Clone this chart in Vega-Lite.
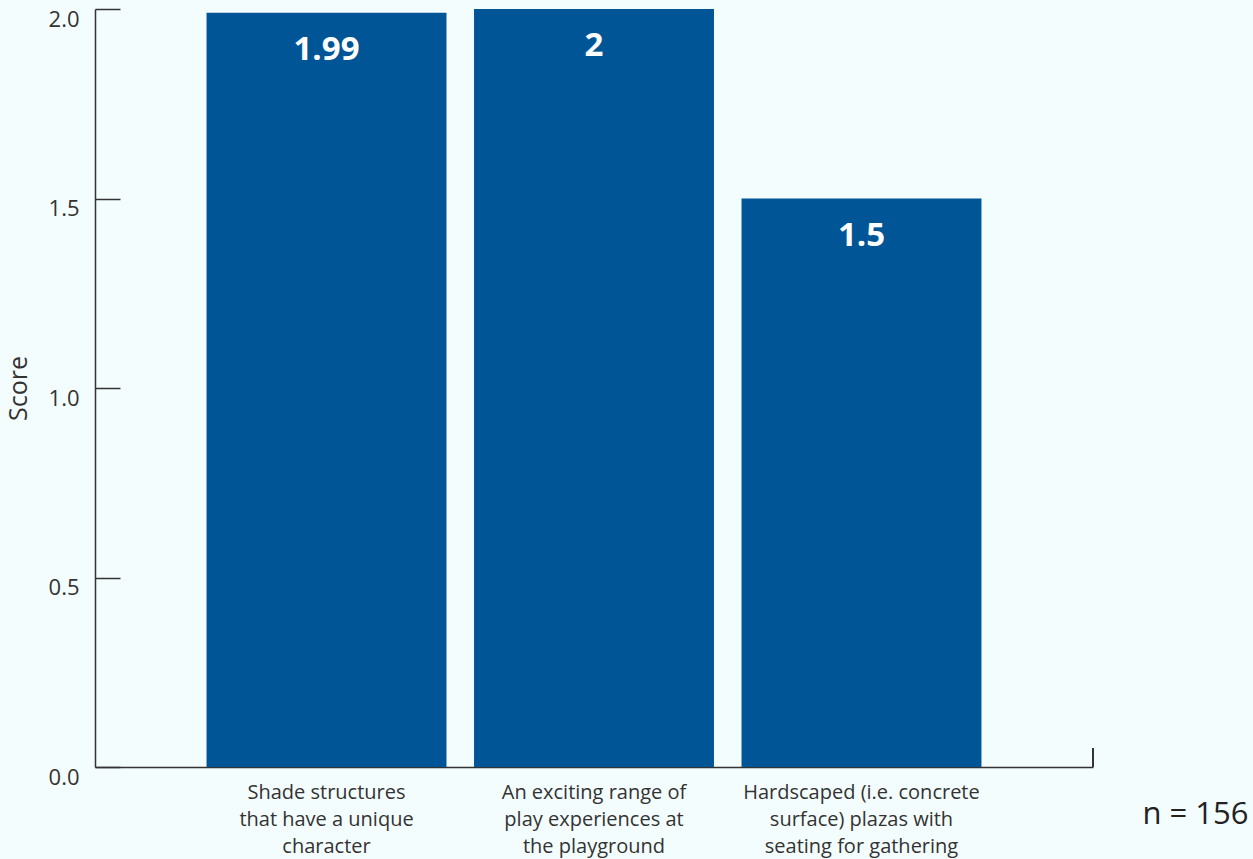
{
  "$schema": "https://vega.github.io/schema/vega-lite/v6.json",
  "autosize": {"type": "none"},
  "padding": {"left": 95, "top": 9, "right": 160, "bottom": 92},
  "width": 998,
  "height": 758,
  "background": "#f4fdfd",
  "config": {
    "view": {"stroke": null},
    "font": "Open Sans",
    "axis": {"labelFont": "Open Sans", "titleFont": "Open Sans", "domainColor": "#333333", "domainWidth": 1.5, "tickColor": "#333333", "tickWidth": 1.5, "labelColor": "#333333", "titleColor": "#333333", "grid": false}
  },
  "data": {
    "values": [
      {"item": "Shade structures that have a unique character", "score": 1.99},
      {"item": "An exciting range of play experiences at the playground", "score": 2},
      {"item": "Hardscaped (i.e. concrete surface) plazas with seating for gathering", "score": 1.5}
    ]
  },
  "layer": [
    {
      "mark": {"type": "bar", "color": "#005596"},
      "encoding": {
        "x": {
          "field": "item", "type": "nominal", "sort": null,
          "scale": {"paddingInner": 0.103, "paddingOuter": 0.417},
          "axis": {
            "ticks": false, "labelAngle": 0, "labelFontSize": 20, "labelPadding": 15,
            "labelBaseline": "top", "labelLineHeight": 27, "labelLimit": 0,
            "labelExpr": "datum.value == 'Shade structures that have a unique character' ? ['Shade structures', 'that have a unique', 'character'] : datum.value == 'An exciting range of play experiences at the playground' ? ['An exciting range of', 'play experiences at', 'the playground'] : ['Hardscaped (i.e. concrete', 'surface) plazas with', 'seating for gathering']",
            "title": "n = 156", "titleFontSize": 31, "titleFontWeight": "normal", "titleColor": "#222222",
            "titleAnchor": "end", "titleAlign": "right", "titleBaseline": "alphabetic", "titleX": 1153, "titleY": 56
          }
        },
        "y": {
          "field": "score", "type": "quantitative",
          "scale": {"domain": [0, 2], "nice": false},
          "axis": {
            "values": [0, 0.5, 1, 1.5, 2], "format": ".1f", "tickSize": -25,
            "labelFontSize": 22, "labelPadding": 41, "labelOffset": 10,
            "title": "Score", "titleFontSize": 25, "titleFontWeight": "normal", "titlePadding": 17
          }
        }
      }
    },
    {
      "mark": {"type": "text", "color": "white", "fontSize": 33, "fontWeight": "bold", "font": "Open Sans", "baseline": "alphabetic", "dy": 47},
      "encoding": {
        "x": {"field": "item", "type": "nominal", "sort": null},
        "y": {"field": "score", "type": "quantitative"},
        "text": {"field": "score", "type": "quantitative"}
      }
    },
    {
      "mark": {"type": "rule", "color": "#333333", "strokeWidth": 1.5},
      "encoding": {
        "x": {"value": "width"},
        "y": {"datum": 0, "type": "quantitative"},
        "y2": {"datum": 0.05}
      }
    }
  ]
}
